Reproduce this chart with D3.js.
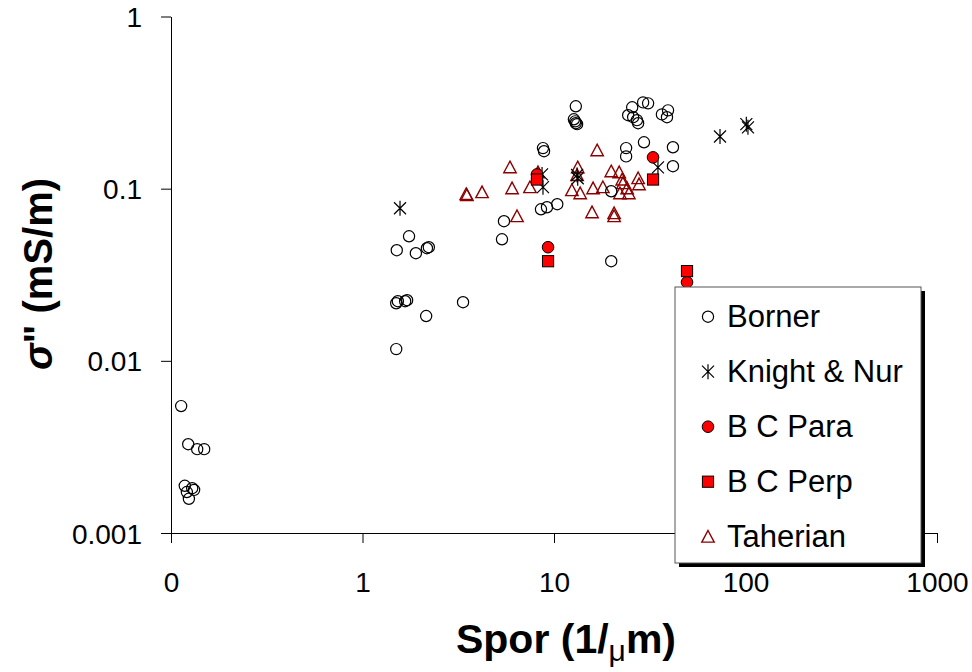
<!DOCTYPE html>
<html>
<head>
<meta charset="utf-8">
<script src="https://cdn.jsdelivr.net/npm/d3@7"></script>
<style>
  html, body { margin: 0; padding: 0; background: #fff; }
  svg { display: block; font-family: "Liberation Sans", Arial, sans-serif; }
</style>
</head>
<body>
<svg id="chart" width="972" height="672"></svg>
<script>
// Specific surface area of pore space vs. imaginary conductivity, by data source
const bornerX = [0.113, 0.123, 0.137, 0.149, 0.118, 0.121, 0.129, 0.132, 0.124,
  1.50, 1.50, 1.53, 1.67, 1.71, 1.51, 1.75, 1.90, 2.17, 2.22, 2.15, 3.35,
  5.35, 5.48, 8.55, 9.19, 10.4, 8.76, 8.87, 13.0, 12.7, 13.0, 13.2, 12.9, 19.9, 19.9,
  23.8, 23.8, 25.6, 29.2, 31.0, 24.4, 25.9, 27.1, 27.5, 29.5, 36.6, 39.4, 38.9, 41.8, 41.8];
const bornerY = [0.00546, 0.00328, 0.00307, 0.00307, 0.00188, 0.00173, 0.00182, 0.00178, 0.00158,
  0.0117, 0.0216, 0.0222, 0.0222, 0.0225, 0.0439, 0.0529, 0.0422, 0.0451, 0.0457, 0.0182, 0.0219,
  0.0508, 0.0647, 0.0759, 0.078, 0.0812, 0.172, 0.165, 0.301, 0.253, 0.240, 0.237, 0.246, 0.0966, 0.0379,
  0.172, 0.154, 0.297, 0.317, 0.313, 0.267, 0.260, 0.250, 0.240, 0.186, 0.270, 0.285, 0.260, 0.174, 0.135];

const knightX = [1.57, 8.66, 8.76, 13.2, 13.3, 34.9, 73.6, 101, 103];
const knightY = [0.077, 0.121, 0.102, 0.120, 0.115, 0.133, 0.201, 0.237, 0.227];

const paraX = [8.15, 32.9, 9.31, 49.5];
const paraY = [0.121, 0.152, 0.0457, 0.0286];

const perpX = [8.15, 32.9, 9.31, 49.5];
const perpY = [0.113, 0.113, 0.0379, 0.0332];

const taherianX = [3.51, 3.48, 4.21, 5.89, 6.04, 6.41, 7.49, 8.25, 16.8, 13.3, 13.2, 12.4, 13.7,
  16.0, 18.0, 19.9, 21.9, 22.7, 22.9, 22.1, 24.1, 24.6, 27.5, 27.8, 15.8, 20.6, 20.6];
const taherianY = [0.0916, 0.093, 0.0953, 0.133, 0.1005, 0.0692, 0.102, 0.1245, 0.167, 0.133, 0.120,
  0.098, 0.094, 0.1005, 0.102, 0.126, 0.1245, 0.113, 0.1075, 0.094, 0.1005, 0.094, 0.115, 0.106,
  0.0729, 0.072, 0.0692];

const xTickValues = [0.1, 1, 10, 100, 1000];
const xTickLabels = ["0", "1", "10", "100", "1000"];
const yTickValues = [0.001, 0.01, 0.1, 1];
const yTickLabels = ["0.001", "0.01", "0.1", "1"];

const seriesNames = ["Borner", "Knight & Nur", "B C Para", "B C Perp", "Taherian"];

const svg = d3.select("#chart");

const x = d3.scaleLog().domain([0.1, 1000]).range([171, 937]);
const y = d3.scaleLog().domain([0.001, 1]).range([533, 16.5]);

// Marker painters
const markers = {
  circle: (g) => g.append("circle").attr("r", 5.6)
    .attr("fill", "none").attr("stroke", "#000").attr("stroke-width", 1.2),
  star: (g) => g.append("path").attr("d", "M-6,-6L6,6M-6,6L6,-6M0,-7.5L0,7.5")
    .attr("fill", "none").attr("stroke", "#000").attr("stroke-width", 1.2),
  redCircle: (g) => g.append("circle").attr("r", 5.8)
    .attr("fill", "#ff0000").attr("stroke", "#000").attr("stroke-width", 1),
  redSquare: (g) => g.append("rect").attr("x", -5.6).attr("y", -5.6).attr("width", 11.2).attr("height", 11.2)
    .attr("fill", "#ff0000").attr("stroke", "#000").attr("stroke-width", 1),
  triangle: (g) => g.append("path").attr("d", "M0,-6.2L6.2,5.4L-6.2,5.4Z")
    .attr("fill", "none").attr("stroke", "#8b0000").attr("stroke-width", 1.4)
};

const series = [
  { name: seriesNames[4], xs: taherianX, ys: taherianY, mark: markers.triangle },
  { name: seriesNames[0], xs: bornerX, ys: bornerY, mark: markers.circle },
  { name: seriesNames[1], xs: knightX, ys: knightY, mark: markers.star },
  { name: seriesNames[2], xs: paraX, ys: paraY, mark: markers.redCircle },
  { name: seriesNames[3], xs: perpX, ys: perpY, mark: markers.redSquare }
];

// Axes
const xAxis = d3.axisBottom(x)
  .tickValues(xTickValues)
  .tickFormat((d, i) => xTickLabels[i])
  .tickSizeInner(10).tickSizeOuter(0).tickPadding(29);
const yAxis = d3.axisLeft(y)
  .tickValues(yTickValues)
  .tickFormat((d, i) => yTickLabels[i])
  .tickSizeInner(10).tickSizeOuter(0).tickPadding(19);

const gx = svg.append("g").attr("transform", "translate(0,533)").call(xAxis);
const gy = svg.append("g").attr("transform", "translate(171,0)").call(yAxis);

[gx, gy].forEach(g => {
  g.select(".domain").attr("stroke", "#000").attr("stroke-width", 1);
  g.selectAll(".tick line").attr("stroke", "#000").attr("stroke-width", 1);
  g.selectAll(".tick text")
    .attr("fill", "#000")
    .style("font-family", "'Liberation Sans', Arial, sans-serif")
    .style("font-size", "28px");
});
gx.selectAll(".tick text").attr("dy", "0.71em").attr("y", 39);
gy.selectAll(".tick text").attr("dy", "0.36em");

// Data points
const plot = svg.append("g");
series.forEach(s => {
  const g = plot.append("g").attr("class", "series");
  s.xs.forEach((v, i) => {
    const m = g.append("g").attr("transform", `translate(${x(v)},${y(s.ys[i])})`);
    s.mark(m);
  });
});

// Axis titles
svg.append("text")
  .attr("x", 566).attr("y", 653)
  .attr("text-anchor", "middle")
  .style("font-size", "41px").style("font-weight", "bold")
  .call(t => {
    t.append("tspan").text("Spor (1/");
    t.append("tspan").text("μ").style("font-size", "30px").style("font-weight", "normal").attr("dy", 8);
    t.append("tspan").text("m)").attr("dy", -8);
  });

svg.append("text")
  .attr("transform", "translate(52,274) rotate(-90)")
  .attr("text-anchor", "middle")
  .style("font-size", "40px").style("font-weight", "bold")
  .call(t => {
    t.append("tspan").text("σ").style("font-style", "italic");
    t.append("tspan").text("\" (mS/m)");
  });

// Legend
const legend = svg.append("g");
legend.append("rect").attr("x", 679).attr("y", 291).attr("width", 246).attr("height", 276).attr("fill", "#000");
legend.append("rect").attr("x", 675).attr("y", 287).attr("width", 246).attr("height", 276)
  .attr("fill", "#fff").attr("stroke", "#555").attr("stroke-width", 1);

const legendOrder = [
  { name: seriesNames[0], mark: markers.circle },
  { name: seriesNames[1], mark: markers.star },
  { name: seriesNames[2], mark: markers.redCircle },
  { name: seriesNames[3], mark: markers.redSquare },
  { name: seriesNames[4], mark: markers.triangle }
];
legendOrder.forEach((d, i) => {
  const cy = 316.7 + i * 55;
  const m = legend.append("g").attr("transform", `translate(708,${cy})`);
  d.mark(m);
  legend.append("text")
    .attr("x", 727).attr("y", cy + 10.5)
    .style("font-size", "31px")
    .attr("fill", "#000")
    .text(d.name);
});
</script>
</body>
</html>
